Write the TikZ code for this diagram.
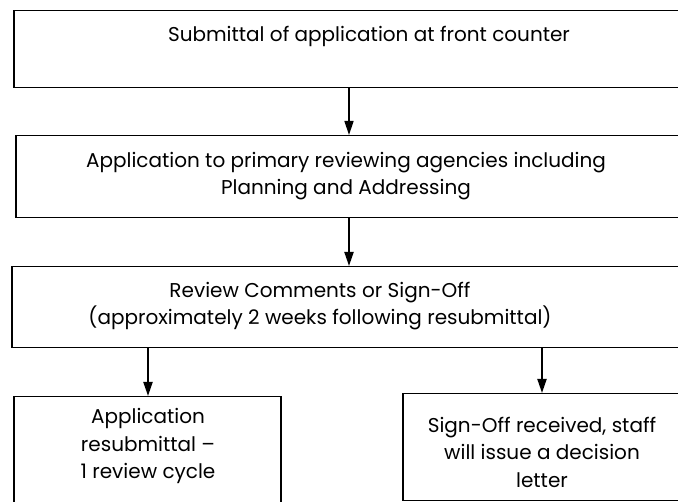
\documentclass[tikz,border=0pt]{standalone}
\usepackage{fontspec}
\setmainfont{Poppins}
\usetikzlibrary{arrows.meta}

\begin{document}
\begin{tikzpicture}[x=1pt,y=-1pt,
    box/.style={draw,line width=1.5pt,anchor=north west,inner sep=0pt},
    lbl/.style={align=center,font=\fontsize{20}{27.5}\selectfont,inner sep=0pt},
    arr/.style={-{Triangle[length=14pt,width=9pt]},line width=2pt}]
  \useasboundingbox (0,0) rectangle (678,502);
  \clip (0,0) rectangle (678,502);
  % boxes (right edges run off the page)
  \node[box,minimum width=720pt,minimum height=77pt] (subm) at (13,10) {};
  \node[box,minimum width=720pt,minimum height=82pt] (agency) at (15,135) {};
  \node[box,minimum width=720pt,minimum height=81pt] (review) at (11,266) {};
  \node[box,minimum width=267pt,minimum height=150pt] (resub) at (13,396) {};
  \node[box,minimum width=400pt,minimum height=107pt] (signoff) at (402,393) {};
  % texts
  \node[lbl] (subm-t) at (369,36) {Submittal of application at front counter};
  \node[lbl] (agency-t) at (346,176) {Application to primary reviewing agencies including\\Planning and Addressing};
  \node[lbl] (review-t) at (320,306) {Review Comments or Sign-Off\\(approximately 2 weeks following resubmittal)};
  \node[lbl] (resub-t) at (148,446) {Application\\resubmittal --\\1 review cycle};
  \node[lbl] (signoff-t) at (542,452) {Sign-Off received, staff\\will issue a decision\\letter};
  % arrow columns
  \coordinate (mid) at (349,0);
  \coordinate (left) at (148,0);
  \coordinate (right) at (542,0);
  \draw[arr,line width=1.5pt] (subm.south -| mid) -- (agency.north -| mid);
  \draw[arr] (agency.south -| mid) -- (review.north -| mid);
  \draw[arr] (review.south -| left) -- (resub.north -| left);
  \draw[arr] (review.south -| right) -- (signoff.north -| right);
\end{tikzpicture}
\end{document}
